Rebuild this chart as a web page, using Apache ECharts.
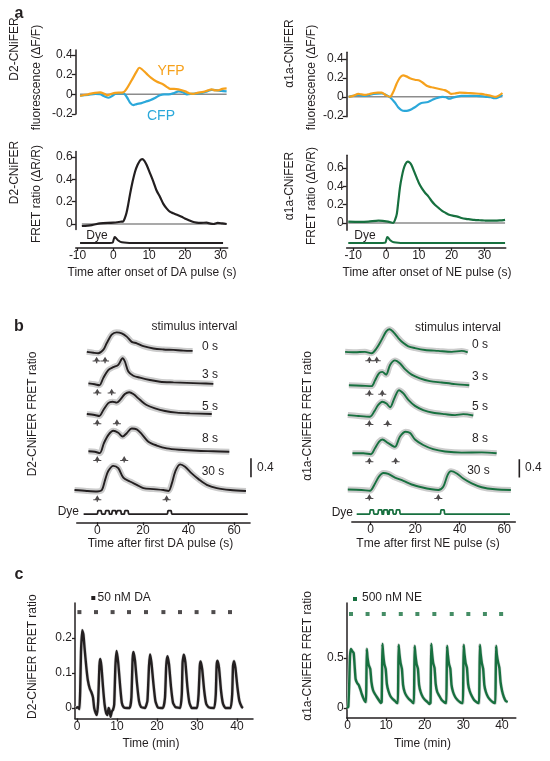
<!DOCTYPE html>
<html><head><meta charset="utf-8">
<script src="https://cdn.jsdelivr.net/npm/echarts@6.0.0/dist/echarts.min.js"></script>
<style>html,body{margin:0;padding:0;background:#fff}#c{width:550px;height:761px}</style>
</head><body><div id="c"></div>
<script>
// ---------------- DATA ----------------
// Panel a (time in s, values in ΔF/F or ΔR/R)
const aTimeTicks = [-10, 0, 10, 20, 30];
const aFluorTicks = [-0.2, 0, 0.2, 0.4];
const aFretTicks = [0, 0.2, 0.4, 0.6];
const d2YFP = [[-9.3,-0.017],[-8.5,-0.01],[-7,0.0],[-5.1,0.015],[-3.7,0.02],[-2.5,0.005],[-1.8,-0.01],[-0.5,0.005],[0.5,0.015],[2.8,0.02],[3.8,0.06],[5.1,0.14],[6.5,0.23],[7.3,0.27],[8.0,0.255],[9.3,0.21],[10.5,0.17],[12.1,0.13],[14,0.1],[15.2,0.07],[15.9,0.055],[17,0.055],[18.2,0.05],[20.1,0.03],[21.2,0.01],[22.4,0.005],[23.5,0.015],[25.2,0.025],[26.5,0.04],[27.5,0.05],[28.5,0.04],[29.4,0.04],[30.5,0.055],[31.7,0.06]];
const d2CFP = [[-9.3,-0.015],[-7,-0.005],[-5,0.005],[-3.7,0.0],[-2.5,-0.02],[-1.3,-0.035],[0,-0.01],[0.9,0.01],[2.8,0.01],[3.8,-0.03],[4.8,-0.09],[5.6,-0.11],[6.5,-0.1],[7.9,-0.09],[9,-0.075],[10.3,-0.06],[11.8,-0.035],[13,-0.01],[14.2,0.0],[15.5,0.0],[16.8,0.01],[18.3,0.03],[19.5,0.02],[20.6,0.0],[22,0.005],[23.4,0.01],[24.8,0.015],[26.2,0.03],[27.5,0.045],[29,0.04],[30.2,0.035],[31.7,0.03]];
const d2FRET = [[-8.8,-0.018],[-6,-0.01],[-3.7,0.006],[0,0.012],[2.0,0.02],[2.8,0.024],[3.2,0.05],[3.7,0.1],[4.2,0.18],[4.7,0.27],[5.4,0.38],[6.1,0.47],[6.8,0.53],[7.5,0.57],[8.1,0.58],[8.7,0.565],[9.3,0.53],[10.2,0.46],[11.2,0.38],[12.1,0.3],[13.1,0.24],[14,0.18],[14.9,0.14],[15.8,0.11],[16.8,0.096],[18,0.08],[19.1,0.065],[20,0.05],[21,0.036],[22.2,0.02],[23.3,0.012],[24.5,0.01],[26.1,0.012],[27,0.005],[28,0.0],[29.2,0.01],[30.5,0.005],[31.7,0.0]];
const d2DyeA = [[-9.3,0.36],[-1,0.36],[-0.2,0.38],[0.1,0.6],[0.4,0.78],[0.8,0.7],[1.3,0.55],[2,0.44],[3,0.39],[4.5,0.365],[8,0.36],[30.7,0.36]];
const a1YFP = [[-11.4,0.0],[-10,0.01],[-8.4,0.03],[-7.4,0.025],[-6.4,0.02],[-5,0.03],[-3.8,0.04],[-2.5,0.045],[-1.3,0.045],[-0.2,0.02],[1.2,0.0],[2.2,0.05],[3.2,0.135],[4.2,0.2],[5.2,0.225],[6.2,0.215],[7.3,0.195],[8.8,0.18],[10.3,0.17],[11.5,0.14],[12.8,0.11],[14,0.1],[15.3,0.09],[16.6,0.08],[17.9,0.07],[19,0.05],[19.9,0.03],[21,0.035],[22.4,0.045],[25,0.04],[27.5,0.035],[29,0.03],[30.6,0.02],[32,0.01],[33.5,0.0],[34.5,0.015],[35.5,0.04]];
const a1CFP = [[-11.4,0.0],[-10,0.01],[-8.4,0.02],[-6.5,0.01],[-5,0.02],[-3.8,0.03],[-1.3,0.035],[0,0.02],[1.2,-0.005],[2.7,-0.06],[3.7,-0.11],[4.7,-0.14],[5.7,-0.148],[6.7,-0.145],[7.8,-0.13],[8.8,-0.11],[9.8,-0.085],[10.8,-0.065],[12.8,-0.055],[14,-0.035],[15.3,-0.015],[17.3,0.0],[18.3,-0.005],[19.3,-0.02],[20.3,-0.01],[21.3,0.0],[23,0.01],[25,0.01],[27.5,0.01],[30.5,0.0],[32,-0.005],[33,-0.015],[34,-0.01],[35.5,0.02]];
const a1FRET = [[-11.5,0.015],[-8,0.012],[-5.4,0.015],[-2.3,0.025],[0.6,0.015],[2.2,0.0],[2.8,0.04],[3.3,0.1],[3.8,0.25],[4.3,0.4],[4.8,0.5],[5.3,0.58],[5.9,0.64],[6.6,0.67],[7.2,0.66],[7.8,0.63],[8.6,0.56],[9.4,0.49],[10.1,0.43],[10.9,0.38],[11.9,0.33],[12.9,0.29],[13.9,0.24],[14.9,0.2],[16,0.165],[17,0.135],[18.2,0.11],[19.5,0.087],[20.6,0.078],[21.8,0.07],[23,0.055],[24.4,0.045],[25.6,0.04],[26.9,0.034],[28.5,0.03],[30,0.027],[31.5,0.025],[33.1,0.025],[34.7,0.028],[36.3,0.035]];
const a1DyeA = [[-11.5,0.36],[-1,0.36],[-0.2,0.38],[0.1,0.6],[0.4,0.78],[0.8,0.7],[1.3,0.55],[2,0.44],[3,0.39],[4.5,0.365],[8,0.36],[36.3,0.36]];

// Panel b (time in s, ΔR/R above each trace's baseline)
const bTimeTicks = [0, 20, 40, 60];
const bIntervals = ['0 s', '3 s', '5 s', '8 s', '30 s'];
const bD2 = [
  [[-4.6,0.01],[-1.7,-0.01],[0.4,-0.02],[2.6,0.05],[4.1,0.19],[6.3,0.37],[8.5,0.42],[10.7,0.4],[12.9,0.33],[15.1,0.22],[17.3,0.19],[20.2,0.13],[24.6,0.08],[29,0.06],[33.4,0.05],[37.7,0.035],[41.8,0.03]],
  [[-3.9,0.02],[-1.1,0],[0.9,-0.02],[2.6,0.13],[4.8,0.3],[7,0.36],[9.2,0.41],[11.1,0.55],[12.1,0.48],[13.6,0.27],[15.8,0.18],[18.7,0.14],[23.1,0.09],[27.5,0.055],[33.4,0.04],[39.2,0.03],[45.1,0.02],[50.9,0.01]],
  [[-4.6,0.02],[-1.1,0],[0.9,-0.02],[2.6,0.1],[4.8,0.25],[6.7,0.28],[8.5,0.26],[10,0.32],[12.1,0.44],[14,0.48],[15.8,0.44],[18.7,0.32],[21.6,0.21],[25.3,0.14],[29.7,0.085],[34.8,0.05],[40.7,0.035],[50.2,0.02]],
  [[-3.9,0.01],[-1.1,0],[1.1,-0.03],[2.9,0.18],[4.8,0.35],[7,0.44],[9.2,0.4],[11.1,0.32],[12.9,0.39],[15.1,0.49],[17.3,0.47],[19.5,0.37],[22.4,0.21],[26.1,0.13],[30.5,0.07],[36.3,0.04],[43.6,0.02],[50.9,0.01],[57.9,0.0]],
  [[-10,0.02],[-4.6,0],[-0.1,-0.01],[2,0.02],[3.4,0.23],[4.8,0.42],[7,0.53],[9.2,0.48],[11.4,0.28],[14.3,0.2],[17.3,0.13],[20.2,0.06],[24.6,0.04],[29,0.02],[31.2,0],[32.7,0.16],[34.2,0.41],[36.3,0.56],[38.5,0.51],[41.4,0.37],[44.4,0.25],[48,0.13],[52.4,0.06],[58.3,0.02],[65.2,0]]
];
const bA1 = [
  [[-11.5,0.01],[-7.1,0],[-2.6,0.01],[0.4,-0.02],[2.7,0.09],[4.9,0.27],[6.9,0.45],[8.4,0.5],[10.2,0.44],[12.4,0.31],[14.7,0.2],[16.9,0.13],[19.9,0.09],[24.4,0.05],[30.4,0.03],[36.4,0.01],[40.9,0.03],[43.6,0]],
  [[-9.8,0.01],[-4.1,0],[0.4,-0.01],[1.9,0.11],[3.7,0.27],[5.2,0.3],[6.9,0.24],[8.7,0.45],[10.9,0.55],[13.1,0.49],[15.4,0.36],[18.4,0.24],[22.1,0.16],[26.6,0.1],[31.9,0.07],[37.9,0.035],[44.3,0.01]],
  [[-10.3,0.02],[-5.5,0],[-0.3,-0.015],[1.6,0.1],[3.4,0.24],[5.2,0.31],[7.1,0.27],[8.7,0.19],[10.6,0.38],[12.7,0.56],[14.7,0.49],[16.9,0.35],[19.9,0.22],[23.6,0.13],[28.1,0.07],[33.4,0.04],[37.9,0.02],[41.6,0.04],[46.1,0.01]],
  [[-8.2,0],[-3.3,0],[0.1,-0.02],[1.9,0.11],[3.7,0.25],[5.2,0.3],[7.9,0.22],[10.9,0.14],[13.1,0.36],[15.7,0.47],[17.7,0.44],[19.9,0.3],[23.6,0.18],[28.1,0.09],[33.4,0.04],[40.9,0.015],[49.9,0.02],[56.6,0]],
  [[-10.3,0.01],[-4.1,0],[-0.3,-0.015],[1.6,0.11],[3.7,0.29],[5.7,0.37],[7.9,0.35],[10.9,0.27],[14.7,0.2],[18.4,0.12],[22.9,0.06],[27.4,0.015],[30.4,0],[32.6,0.07],[34.6,0.33],[36.1,0.41],[38.7,0.36],[41.6,0.25],[45.4,0.145],[49.9,0.06],[55.9,0.015],[63,0]]
];
const bD2Arrows = [[-0.3,3.4],[0,6.3],[0,8.6],[0,11.8],[0,30.4]];
const bA1Arrows = [[-0.6,2.7],[-0.6,5.2],[-0.6,7.6],[-0.6,11.2],[-0.6,30.4]];
const bD2Dye = [[-6,0.5],[0,0.5],[0.35,0.72],[1.65,0.72],[2,0.5],[3.4,0.5],[3.75,0.72],[5.05,0.72],[5.4,0.5],[6.3,0.5],[6.65,0.72],[7.95,0.72],[8.3,0.5],[8.6,0.5],[8.95,0.72],[10.25,0.72],[10.6,0.5],[11.8,0.5],[12.15,0.72],[13.45,0.72],[13.8,0.5],[30.7,0.5],[31.05,0.72],[32.35,0.72],[32.7,0.5],[66,0.5]];
const bA1Dye = [[-6.3,0.46],[-0.5,0.46],[-0.15,0.72],[1.15,0.72],[1.5,0.46],[3.2,0.46],[3.55,0.72],[4.85,0.72],[5.2,0.46],[5.7,0.46],[6.05,0.72],[7.35,0.72],[7.7,0.46],[8.2,0.46],[8.55,0.72],[9.85,0.72],[10.2,0.46],[11.3,0.46],[11.65,0.72],[12.95,0.72],[13.3,0.46],[31.3,0.46],[31.65,0.72],[32.95,0.72],[33.3,0.46],[62.6,0.46]];
const bD2ScaleBar = [[67.4,0.29],[67.4,0.69]];
const bA1ScaleBar = [[66.8,0.27],[66.8,0.67]];

// Panel c (time in min)
const cTimeTicks = [0, 10, 20, 30, 40];
const cDATicks = [0, 0.1, 0.2];
const cNETicks = [0, 0.5];
const cDAPulses = [0.6, 4.75, 8.9, 13, 17.25, 21.6, 25.75, 29.9, 34.1, 38.25];
const cNEPulses = [0.9, 5.2, 9.4, 13.8, 18.1, 22.5, 27, 31.3, 35.6, 39.8];
const cDA = [[-0.3,0.0],[0.2,0.002],[0.6,-0.003],[0.8,0.05],[1.0,0.16],[1.3,0.222],[1.6,0.21],[1.9,0.17],[2.3,0.12],[2.7,0.08],[3.2,0.055],[3.6,0.045],[4.0,0.03],[4.3,0.0],[4.7,-0.015],[5.0,-0.02],[5.3,0.02],[5.6,0.12],[5.8,0.14],[6.1,0.12],[6.5,0.06],[6.9,0.01],[7.3,-0.015],[7.6,-0.02],[7.9,0.0],[8.1,-0.005],[8.4,-0.025],[8.7,-0.01],[9.0,-0.005],[9.3,0.01],[9.6,0.12],[9.9,0.163],[10.3,0.13],[10.8,0.06],[11.2,0.015],[11.7,0.002],[12.5,0.0],[13.2,0.0],[13.6,0.03],[13.9,0.14],[14.1,0.16],[14.5,0.135],[15,0.07],[15.5,0.02],[16,0.003],[17,0.0],[17.6,0.02],[18,0.12],[18.25,0.153],[18.6,0.13],[19.1,0.07],[19.6,0.02],[20.2,0.002],[21.5,0.0],[22,0.03],[22.3,0.12],[22.6,0.148],[23,0.125],[23.5,0.06],[24,0.015],[24.6,0.003],[25.8,0.0],[26.2,0.04],[26.4,0.13],[26.7,0.152],[27.1,0.13],[27.6,0.06],[28.1,0.015],[28.7,0.0],[30,0.0],[30.4,0.04],[30.7,0.12],[30.9,0.133],[31.3,0.11],[31.8,0.05],[32.3,0.012],[32.9,0.002],[34.3,0.0],[34.7,0.04],[34.9,0.12],[35.1,0.135],[35.5,0.115],[36,0.05],[36.5,0.012],[37.1,0.0],[38.4,0.0],[38.8,0.04],[39.0,0.12],[39.25,0.134],[39.6,0.115],[40.1,0.06],[40.6,0.02],[41.2,0.003],[41.5,0.0]];
const cNE = [[-0.2,0.0],[0.2,0.01],[0.45,0.25],[0.65,0.52],[0.9,0.59],[1.2,0.57],[1.6,0.55],[1.85,0.42],[2.1,0.29],[2.5,0.25],[2.9,0.23],[3.3,0.19],[3.7,0.14],[4.1,0.1],[4.5,0.07],[4.8,0.06],
[4.9,0.3],[5.0,0.59],[5.2,0.5],[5.5,0.43],[5.9,0.39],[6.2,0.26],[6.6,0.18],[7.1,0.14],[7.6,0.11],[8.1,0.08],[8.6,0.05],[8.85,0.06],
[8.95,0.35],[9.05,0.64],[9.25,0.54],[9.55,0.44],[9.9,0.39],[10.2,0.24],[10.6,0.17],[11.1,0.12],[11.7,0.09],[12.3,0.07],[12.8,0.05],[13.05,0.05],
[13.15,0.35],[13.25,0.63],[13.45,0.54],[13.75,0.45],[14.1,0.39],[14.4,0.23],[14.8,0.16],[15.3,0.12],[15.9,0.09],[16.5,0.07],[17.0,0.05],[17.2,0.05],
[17.3,0.33],[17.4,0.62],[17.6,0.53],[17.9,0.44],[18.25,0.39],[18.55,0.23],[18.95,0.16],[19.5,0.11],[20.1,0.08],[20.7,0.06],[21.2,0.04],[21.5,0.05],
[21.6,0.35],[21.7,0.64],[21.9,0.55],[22.2,0.45],[22.55,0.4],[22.85,0.24],[23.25,0.16],[23.8,0.12],[24.4,0.08],[25,0.06],[25.4,0.05],[25.6,0.05],
[25.7,0.33],[25.8,0.62],[26.0,0.53],[26.3,0.44],[26.65,0.39],[26.95,0.23],[27.35,0.16],[27.9,0.11],[28.5,0.08],[29.1,0.06],[29.6,0.05],[29.9,0.05],
[30.0,0.34],[30.1,0.63],[30.3,0.54],[30.6,0.45],[30.95,0.4],[31.25,0.24],[31.65,0.17],[32.2,0.12],[32.8,0.08],[33.4,0.06],[33.9,0.05],[34.1,0.05],
[34.2,0.34],[34.3,0.63],[34.5,0.54],[34.8,0.45],[35.15,0.39],[35.45,0.23],[35.85,0.16],[36.4,0.11],[37,0.08],[37.6,0.06],[38.1,0.05],[38.3,0.05],
[38.4,0.33],[38.5,0.62],[38.7,0.53],[39.0,0.46],[39.35,0.4],[39.65,0.26],[40.05,0.17],[40.5,0.11],[41,0.07],[41.5,0.06]];

// ---------------- STYLE / BUILD ----------------
const FF = "'Liberation Sans', Arial, Helvetica, sans-serif";
const INK = '#231f20', ORANGE = '#f6a11c', BLUE = '#2ba8da', GREEN = '#17703f', ZERO = '#8c8c8c', HALO = '#cccccc';
const ARROW = 'path://M0,6L12,6L12,7.6L7,7.6L7,10L5,10L5,7.6L0,7.6Z M6,0L9.5,6L2.5,6Z';
const grids = [], xAxes = [], yAxes = [], series = [], graphics = [];

function grid(sx, sy, xOpt, yOpt) {
  const i = grids.length;
  grids.push({left: sx.x0 + sx.min * sx.ppu, width: (sx.max - sx.min) * sx.ppu,
              top: sy.y0 - sy.max * sy.ppu, height: (sy.max - sy.min) * sy.ppu});
  xAxes.push(Object.assign({gridIndex: i, type: 'value', min: sx.min, max: sx.max, show: false, splitLine: {show: false}}, xOpt || {}));
  yAxes.push(Object.assign({gridIndex: i, type: 'value', min: sy.min, max: sy.max, show: false, splitLine: {show: false}}, yOpt || {}));
  return i;
}
function visAxis(ticks, tickLen, margin) {
  return {show: true,
    axisLine: {show: true, onZero: false, lineStyle: {color: INK, width: 1.5}},
    axisTick: {show: true, customValues: ticks, length: tickLen, lineStyle: {color: INK, width: 1.3}},
    axisLabel: {show: true, customValues: ticks, color: INK, fontSize: 12, fontFamily: FF, margin: margin},
    splitLine: {show: false}};
}
function line(gi, data, color, width, z, smooth) {
  series.push({type: 'line', xAxisIndex: gi, yAxisIndex: gi, data: data, symbol: 'none', showSymbol: false,
    smooth: smooth === undefined ? 0.3 : smooth, lineStyle: {color: color, width: width}, z: z || 2,
    silent: true, animation: false});
}
function zeroLine(gi, data) {
  line(gi, [[data[0][0], 0], [data[data.length - 1][0], 0]], ZERO, 1.5, 1, false);
}
function text(x, y, s, opt, rot) {
  const st = Object.assign({text: s, fill: INK, font: '12px ' + FF, textAlign: 'center', textVerticalAlign: 'middle'}, opt || {});
  graphics.push({type: 'text', x: x, y: y, rotation: rot || 0, style: st, silent: true, z: 10});
}
const R = Math.PI / 2;

// ----- Panel a -----
function panelA(sx, fl, fr, dye, yfp, cfp, fret, dyeData, col) {
  const g1 = grid(sx, fl, {}, visAxis(aFluorTicks, 4, 3));
  zeroLine(g1, yfp);
  line(g1, cfp, BLUE, 2.2, 3);
  line(g1, yfp, ORANGE, 2.2, 4);
  const g2 = grid(sx, fr, {}, visAxis(aFretTicks, 4, 3));
  zeroLine(g2, fret);
  line(g2, fret, col, 2.2, 3);
  const g3 = grid(sx, dye, visAxis(aTimeTicks, 3, 2), {});
  line(g3, dyeData, col, 2, 3, 0.3);
}
panelA({x0: 113.3, ppu: 3.575, min: -10.5, max: 32},
       {y0: 94.3, ppu: 98.3, min: -0.2, max: 0.45},
       {y0: 224, ppu: 111.7, min: -0.05, max: 0.65},
       {y0: 248, ppu: 14, min: 0, max: 1},
       d2YFP, d2CFP, d2FRET, d2DyeA, INK);
panelA({x0: 386, ppu: 3.28, min: -12, max: 36.5},
       {y0: 96.8, ppu: 95, min: -0.21, max: 0.47},
       {y0: 223, ppu: 91.7, min: -0.08, max: 0.74},
       {y0: 248, ppu: 14, min: 0, max: 1},
       a1YFP, a1CFP, a1FRET, a1DyeA, GREEN);

// ----- Panel b -----
function panelB(x0, ppu, baselines, yppu, traces, arrows, dyeData, dyeY0, axMin, axMax, bar, col) {
  const sx = {x0: x0, ppu: ppu, min: -11, max: 70};
  traces.forEach(function (tr, k) {
    const gi = grid(sx, {y0: baselines[k], ppu: yppu, min: -0.3, max: 0.8});
    line(gi, tr, HALO, 6, 2, 0.3);
    line(gi, tr, col, 1.9, 3, 0.3);
    series.push({type: 'scatter', xAxisIndex: gi, yAxisIndex: gi, data: arrows[k].map(function (t) { return [t, -0.16]; }),
      symbol: ARROW, symbolSize: [8, 6.5], itemStyle: {color: INK}, silent: true, animation: false, z: 4});
    if (k === traces.length - 1) line(gi, bar, INK, 1.6, 4, false);
  });
  const gd = grid({x0: x0, ppu: ppu, min: axMin, max: axMax}, {y0: dyeY0, ppu: 16.3, min: 0, max: 1},
                  visAxis(bTimeTicks, 3, 2), {});
  line(gd, dyeData, col, 1.8, 3, 0.35);
}
panelB(97.3, 2.28, [352.3, 384.3, 415, 451.7, 491], 47.5, bD2, bD2Arrows, bD2Dye, 522.3, -9, 67, bD2ScaleBar, INK);
panelB(370.7, 2.225, [352.3, 385.7, 416, 453.3, 490], 46, bA1, bA1Arrows, bA1Dye, 521.7, -8.5, 65, bA1ScaleBar, GREEN);

// ----- Panel c -----
function panelC(sx, sy, ticksY, data, pulses, dotLevel, col) {
  const gi = grid(sx, sy, visAxis(cTimeTicks, 3, 2), visAxis(ticksY, 3, 3));
  line(gi, data, '#d9d9d9', 3.6, 2, 0.15);
  line(gi, data, col, 2.4, 3, 0.15);
  series.push({type: 'scatter', xAxisIndex: gi, yAxisIndex: gi, data: pulses.map(function (t) { return [t, dotLevel]; }),
    symbol: 'rect', symbolSize: 4, itemStyle: {color: col}, silent: true, animation: false, z: 4});
}
panelC({x0: 77, ppu: 4, min: -0.5, max: 44}, {y0: 708, ppu: 350, min: -0.03, max: 0.3}, cDATicks, cDA, cDAPulses, 0.274, INK);
panelC({x0: 347.5, ppu: 3.86, min: -0.2, max: 43.6}, {y0: 708, ppu: 100, min: -0.1, max: 1.05}, cNETicks, cNE, cNEPulses, 0.94, GREEN);

// ----- Text -----
const bold = {font: 'bold 16px ' + FF};
text(19, 14, 'a', bold); text(19, 327, 'b', bold); text(19, 575, 'c', bold);
// a
text(15, 49, 'D2-CNiFER', null, R); text(37, 77.5, 'fluorescence (ΔF/F)', null, R);
text(15, 172.5, 'D2-CNiFER', null, R); text(37, 194, 'FRET ratio (ΔR/R)', null, R);
text(290, 53.5, 'α1a-CNiFER', null, R); text(312, 77.5, 'fluorescence (ΔF/F)', null, R);
text(290, 186, 'α1a-CNiFER', null, R); text(312, 196, 'FRET ratio (ΔR/R)', null, R);
text(171, 71.5, 'YFP', {fill: ORANGE, font: '14px ' + FF});
text(161, 116, 'CFP', {fill: BLUE, font: '14px ' + FF});
text(97, 236, 'Dye'); text(365, 236, 'Dye');
text(152, 273, 'Time after onset of DA pulse (s)');
text(427, 273, 'Time after onset of NE pulse (s)');
// b
text(194.5, 327, 'stimulus interval'); text(458, 328, 'stimulus interval');
const bLy = [346.7, 375, 406.7, 438.3, 471.7], bRy = [345, 377, 407, 439, 471];
bIntervals.forEach(function (s, k) {
  text(k === 4 ? 213 : 210, bLy[k], s);
  text(k === 4 ? 478.5 : 480, bRy[k], s);
});
text(257, 468, '0.4', {textAlign: 'left'}); text(525, 468, '0.4', {textAlign: 'left'});
text(79, 512, 'Dye', {textAlign: 'right'}); text(353, 513, 'Dye', {textAlign: 'right'});
text(160.5, 544, 'Time after first DA pulse (s)');
text(428, 544, 'Tme after first NE pulse (s)');
text(33, 414, 'D2-CNiFER FRET ratio', null, R);
text(308, 416, 'α1a-CNiFER FRET ratio', null, R);
// c
graphics.push({type: 'rect', shape: {x: 91.3, y: 596, width: 4, height: 4}, style: {fill: INK}, silent: true});
text(97.5, 598, '50 nM DA', {textAlign: 'left'});
graphics.push({type: 'rect', shape: {x: 353, y: 597, width: 4, height: 4}, style: {fill: GREEN}, silent: true});
text(362, 598, '500 nM NE', {textAlign: 'left'});
text(151, 744, 'Time (min)'); text(422.5, 744, 'Time (min)');
text(33, 656.7, 'D2-CNiFER FRET ratio', null, R);
text(308, 656, 'α1a-CNiFER FRET ratio', null, R);

const chart = echarts.init(document.getElementById('c'), null, {renderer: 'canvas'});
chart.setOption({
  backgroundColor: '#ffffff', animation: false,
  textStyle: {fontFamily: FF},
  grid: grids, xAxis: xAxes, yAxis: yAxes, series: series, graphic: graphics
});
</script></body></html>
